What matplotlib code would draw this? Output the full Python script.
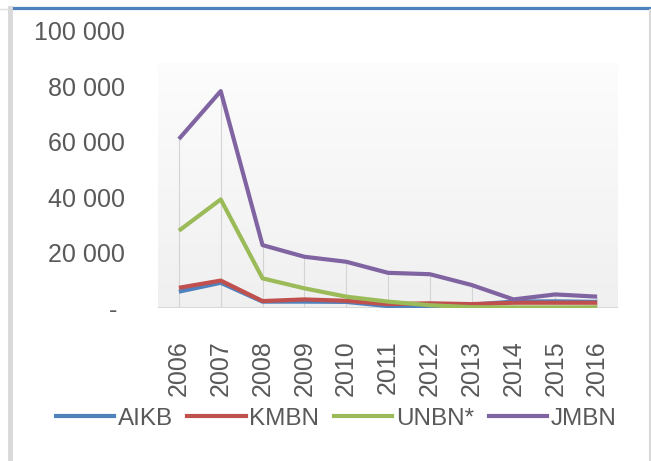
import numpy as np
import matplotlib.pyplot as plt
from matplotlib import font_manager
from matplotlib.lines import Line2D

years = ["2006", "2007", "2008", "2009", "2010", "2011",
         "2012", "2013", "2014", "2015", "2016"]
aikb = [5900, 9100, 2300, 2300, 2200, 700, 700, 1200, 2300, 2400, 2200]
kmbn = [7300, 9900, 2500, 3100, 2600, 1400, 1700, 1400, 1900, 1900, 1900]
unbn = [27900, 39200, 10700, 7100, 4100, 2300, 1000, 300, 200, 200, 250]
jmbn = [61000, 78300, 22700, 18500, 16700, 12700, 12200, 8300, 3100, 4900, 4100]
names = ["AIKB", "KMBN", "UNBN*", "JMBN"]
yticks = [0, 20000, 40000, 60000, 80000, 100000]

colors = ["#4F81BD", "#C0504D", "#9BBB59", "#8064A2"]
txt = "#595959"

installed = {f.name for f in font_manager.fontManager.ttflist}
narrow = "Liberation Sans Narrow" if "Liberation Sans Narrow" in installed else "Liberation Sans"
legsize = 20 if narrow == "Liberation Sans Narrow" else 17.5

W, H = 651, 461
fig = plt.figure(figsize=(W / 100, H / 100), dpi=100)
ax = fig.add_axes([158 / W, 1 - 308 / H, (618 - 158) / W, (308 - 31) / H])
ax.set_facecolor("none")

x = np.arange(len(years))
ax.set_xlim(-0.5, len(years) - 0.5)
ax.set_ylim(0, 100000)

# grey gradient plot area (starts a bit below the top label)
grad = np.linspace(0.99, 0.94, 200).reshape(-1, 1)
ax.imshow(np.dstack([grad, grad, grad]), extent=(-0.5, len(years) - 0.5, 0, 88400),
          aspect="auto", zorder=0, interpolation="bilinear")

# drop lines up to the highest series
top = np.max([aikb, kmbn, unbn, jmbn], axis=0)
ax.vlines(x, 0, top, color="#d4d4d4", lw=0.8, zorder=1)
ax.axhline(0, color="#d4d4d4", lw=1.2, zorder=1)

for vals, c in zip([aikb, kmbn, unbn, jmbn], colors):
    ax.plot(x, vals, color=c, lw=3, solid_joinstyle="round",
            solid_capstyle="butt", zorder=3)

for s in ax.spines.values():
    s.set_visible(False)
ax.tick_params(length=0)

ax.set_yticks(yticks)
ax.set_yticklabels(["- " if v == 0 else f"{v:,}".replace(",", " ") for v in yticks],
                   fontsize=18, color=txt, family="Liberation Sans")
ax.tick_params(axis="y", pad=24)

ax.set_xticks(x)
ax.set_xticklabels(years, rotation=90, fontsize=18, color=txt,
                   family="Liberation Sans")
ax.tick_params(axis="x", pad=23)

handles = [Line2D([], [], color=c, lw=3) for c in colors]
leg = fig.legend(handles, names, loc="center", bbox_to_anchor=(336 / W, 1 - 419 / H),
                 ncol=4, frameon=False, handlelength=2.4, handletextpad=0.15,
                 columnspacing=0.6, borderpad=0,
                 prop={"family": narrow, "size": legsize})
for t in leg.get_texts():
    t.set_color(txt)

# window frame bits
fig.add_artist(plt.Line2D([12 / W, 1], [1 - 8.5 / H, 1 - 8.5 / H], color="#4F81BD",
                          lw=2.3, transform=fig.transFigure))
fig.add_artist(plt.Line2D([9.5 / W, 9.5 / W], [0, 1 - 8 / H], color="#d9d9d9",
                          lw=3.5, transform=fig.transFigure))
fig.add_artist(plt.Line2D([0, 7 / W], [1 - 9 / H, 1 - 9 / H], color="#e0e0e0",
                          lw=1, transform=fig.transFigure))
fig.add_artist(plt.Line2D([649.5 / W, 649.5 / W], [0, 1 - 10 / H], color="#d9d9d9",
                          lw=1.5, transform=fig.transFigure))

fig.savefig("out.png", dpi=100, facecolor="white")
